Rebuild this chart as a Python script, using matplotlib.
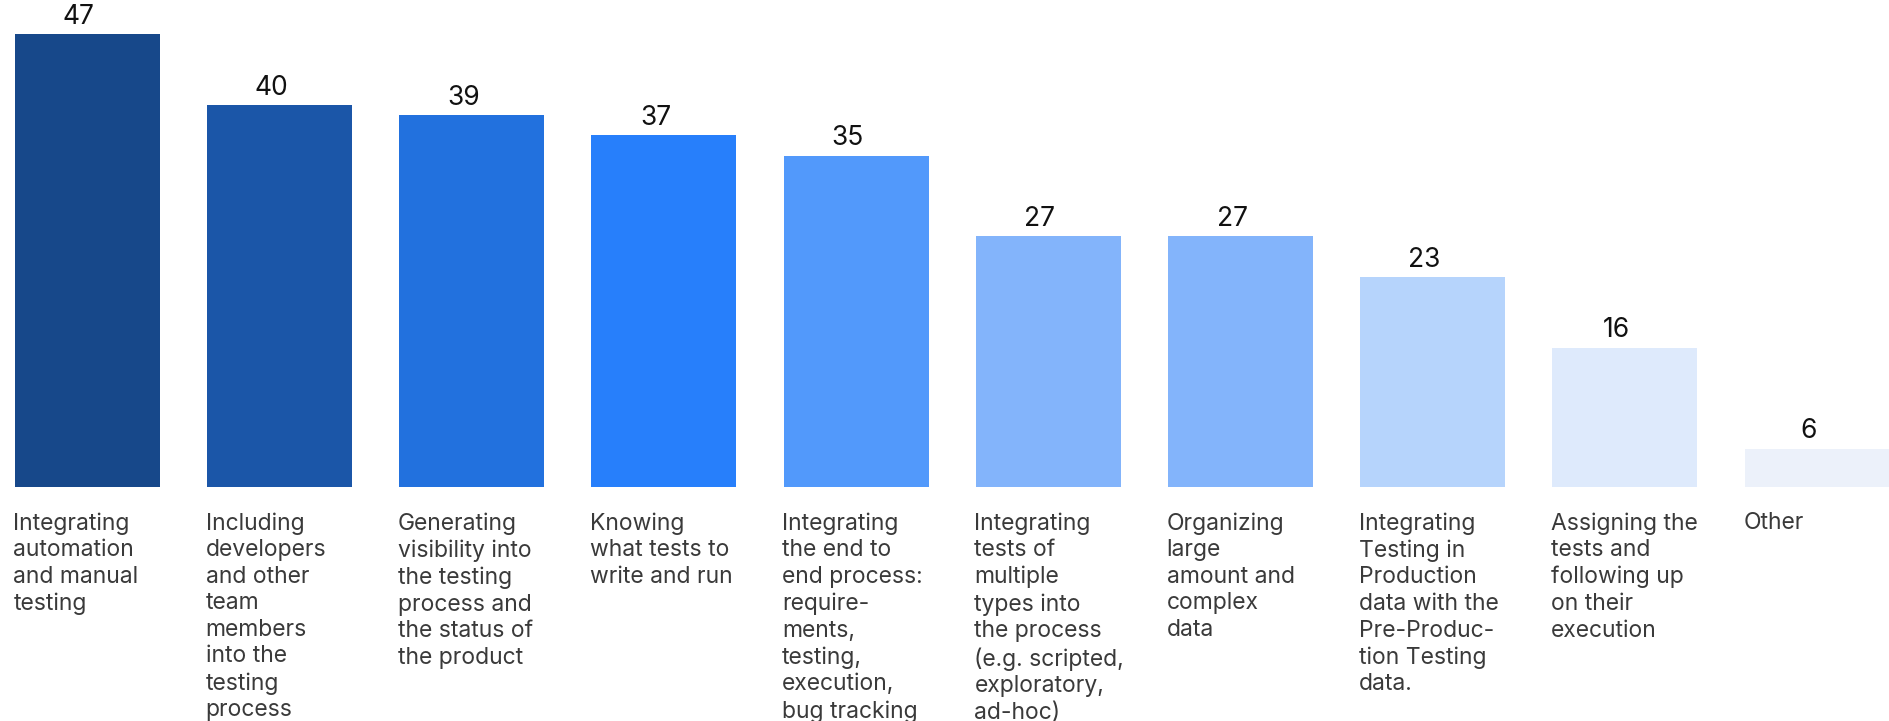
import matplotlib.pyplot as plt

# survey answers, share of respondents
categories = [
    "Integrating\nautomation\nand manual\ntesting",
    "Including\ndevelopers\nand other\nteam\nmembers\ninto the\ntesting\nprocess",
    "Generating\nvisibility into\nthe testing\nprocess and\nthe status of\nthe product",
    "Knowing\nwhat tests to\nwrite and run",
    "Integrating\nthe end to\nend process:\nrequire-\nments,\ntesting,\nexecution,\nbug tracking",
    "Integrating\ntests of\nmultiple\ntypes into\nthe process\n(e.g. scripted,\nexploratory,\nad-hoc)",
    "Organizing\nlarge\namount and\ncomplex\ndata",
    "Integrating\nTesting in\nProduction\ndata with the\nPre-Produc-\ntion Testing\ndata.",
    "Assigning the\ntests and\nfollowing up\non their\nexecution",
    "Other",
]
values = [47, 40, 39, 37, 35, 27, 27, 23, 16, 6]
colors = ["#17488A", "#1B56A8", "#2271DE", "#277FFB", "#5299FB",
          "#83B4FB", "#83B4FB", "#B6D4FC", "#DEEAFC", "#ECF1FA"]

plt.rcParams['font.family'] = ['Inter', 'DejaVu Sans']

fig = plt.figure(figsize=(18.89, 7.21), dpi=100)
ax = fig.add_axes([0, 0.3245, 1, 0.6755])

base = 2.2  # the value axis does not start at zero
w = 0.754
x = range(len(values))
ax.bar(x, [v - base for v in values], bottom=base, width=w, color=colors)

for i, v in enumerate(values):
    ax.annotate(str(v), xy=(i, v), xytext=(-6, 3), textcoords='offset points',
                ha='center', va='bottom', fontsize=19, color='#111111')
    ax.annotate(categories[i], xy=(i - w / 2, base), xytext=(-1, -18),
                textcoords='offset points', ha='left', va='top',
                fontsize=16.5, color='#3a3a3a', linespacing=1.27,
                annotation_clip=False)

ax.set_xlim(-0.454, 9.374)
ax.set_ylim(base, 50.4)
ax.axis('off')

fig.savefig('out.png', dpi=100)
